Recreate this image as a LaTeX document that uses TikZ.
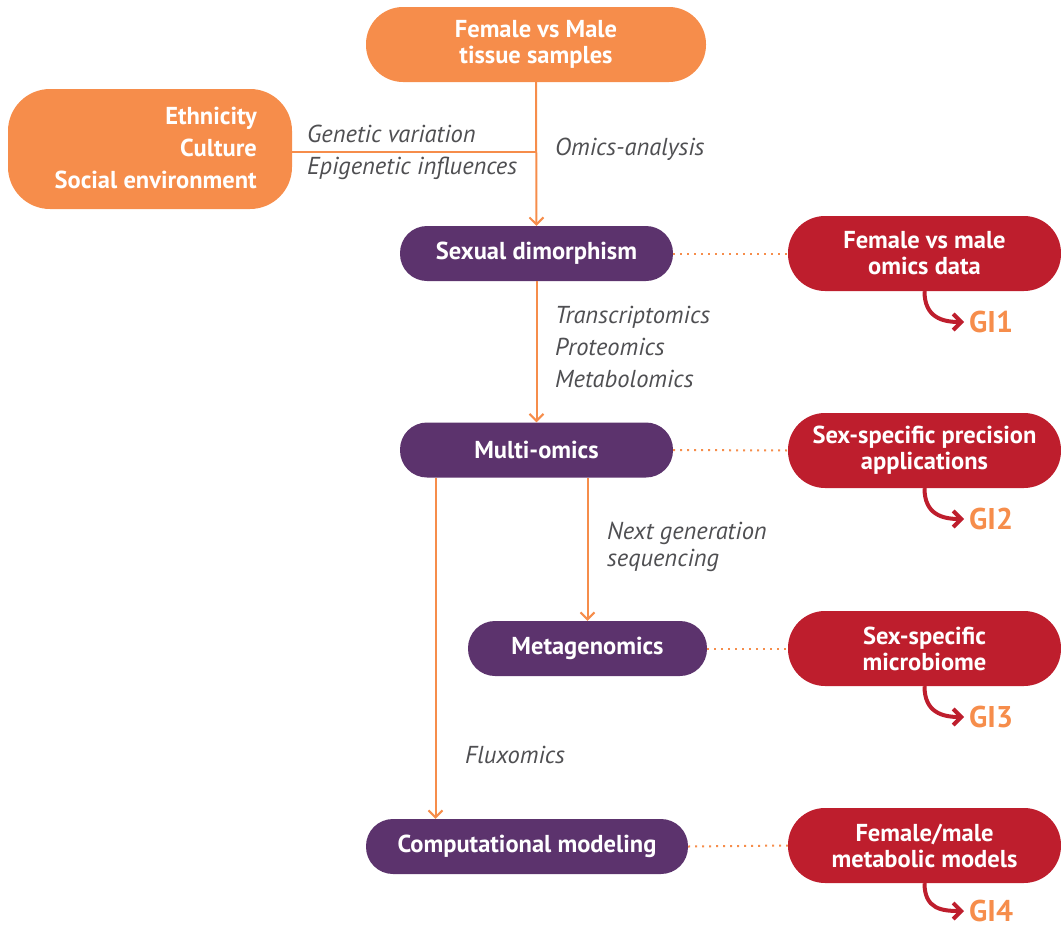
\documentclass[tikz,border=0pt]{standalone}
\usepackage{fontspec}
\setmainfont{PT Sans}
\usetikzlibrary{arrows.meta}
\definecolor{orng}{HTML}{F68D4B}
\definecolor{purp}{HTML}{5C336D}
\definecolor{redd}{HTML}{BE1E2D}
\definecolor{lbl}{HTML}{4F4F52}
\tikzset{
  pill/.style={rounded corners=#1, inner sep=0pt, text=white, font=\bfseries\fontsize{24.5}{26}\selectfont, align=center},
  obox/.style={pill=37pt, fill=orng},
  pbox/.style={pill=27pt, fill=purp, minimum height=55pt},
  rbox/.style={pill=37pt, fill=redd, minimum height=75pt, minimum width=273pt},
  flow/.style={draw=orng, line width=2pt, -{Straight Barb[length=7pt,width=14pt,line width=2pt]}},
  plain/.style={draw=orng, line width=2pt},
  dots/.style={draw=orng, line width=2pt, dash pattern=on 2pt off 5pt},
  lab/.style={text=lbl, font=\itshape\fontsize{24.5}{32}\selectfont, align=left, inner sep=0pt, anchor=west},
  gi/.style={text=orng, font=\bfseries\fontsize{30}{32}\selectfont, inner sep=0pt, anchor=west},
  giarr/.style={draw=redd, line width=4pt, -{Straight Barb[length=8pt,width=16pt,line width=4pt]}}
}
\begin{document}
\begin{tikzpicture}[x=1pt,y=-1pt]
\useasboundingbox (0,0) rectangle (1061,929);
% top and left orange
\node[obox, minimum width=340pt, minimum height=75pt] (top) at (536,44.5) {Female vs Male\\tissue samples};
\node[obox, minimum width=284pt, minimum height=120pt, rounded corners=42pt] (env) at (150,149) {};
\node[text=white, font=\bfseries\fontsize{24.5}{32}\selectfont, align=right, anchor=east, inner sep=0pt] (envt) at (257,148) {Ethnicity\\Culture\\Social environment};
% purple
\node[pbox, minimum width=273pt] (sd) at (536.5,253.5) {Sexual dimorphism};
\node[pbox, minimum width=273pt] (mo) at (536.5,450) {Multi-omics};
\node[pbox, minimum width=239pt] (mg) at (587.5,648.5) {Metagenomics};
\node[pbox, minimum width=322pt] (cm) at (527,846.5) {Computational modeling};
% red
\node[rbox] (r1) at (924.5,253.5) {Female vs male\\omics data};
\node[rbox] (r2) at (924.5,450.5) {Sex-specific precision\\applications};
\node[rbox] (r3) at (924.5,648.5) {Sex-specific\\microbiome};
\node[rbox] (r4) at (924.5,845.5) {Female/male\\metabolic models};
% GI labels
\node[gi] (g1) at (969,322) {GI1};
\node[gi] (g2) at (969,519) {GI2};
\node[gi] (g3) at (969,717) {GI3};
\node[gi] (g4) at (969,911) {GI4};
% labels
\node[lab] (l1) at (307,152) {Genetic variation\\Epigenetic influences};
\node[lab] (l2) at (555,149) {Omics-analysis};
\node[lab] (l3) at (555,347) {Transcriptomics\\Proteomics\\Metabolomics};
\node[lab, font=\itshape\fontsize{24.5}{27}\selectfont] (l4) at (607,547) {Next generation\\sequencing};
\node[lab] (l5) at (465,755) {Fluxomics};
% connectors
\draw[flow] (top.south) -- (sd.north);
\coordinate (j) at (top.south |- 0,152);
\draw[plain] (env.east |- j) -- (j);
\draw[flow] (sd.south) -- (mo.north);
\draw[flow] (mo.south -| mg.north) -- (mg.north);
\coordinate (fx) at ([xshift=-101pt]mo.south);
\draw[flow] (fx) -- (fx |- cm.north);
\draw[dots] (sd.east) -- (r1.west);
\draw[dots] (mo.east) -- (r2.west);
\draw[dots] (mg.east) -- (r3.west);
\draw[dots] (cm.east) -- (r4.west);
\foreach \r/\g in {r1/g1,r2/g2,r3/g3,r4/g4}{
  \draw[giarr] (\r.south) .. controls +(0,26) and +(-22,0) .. ([xshift=-5pt]\g.west);
}
\end{tikzpicture}
\end{document}
